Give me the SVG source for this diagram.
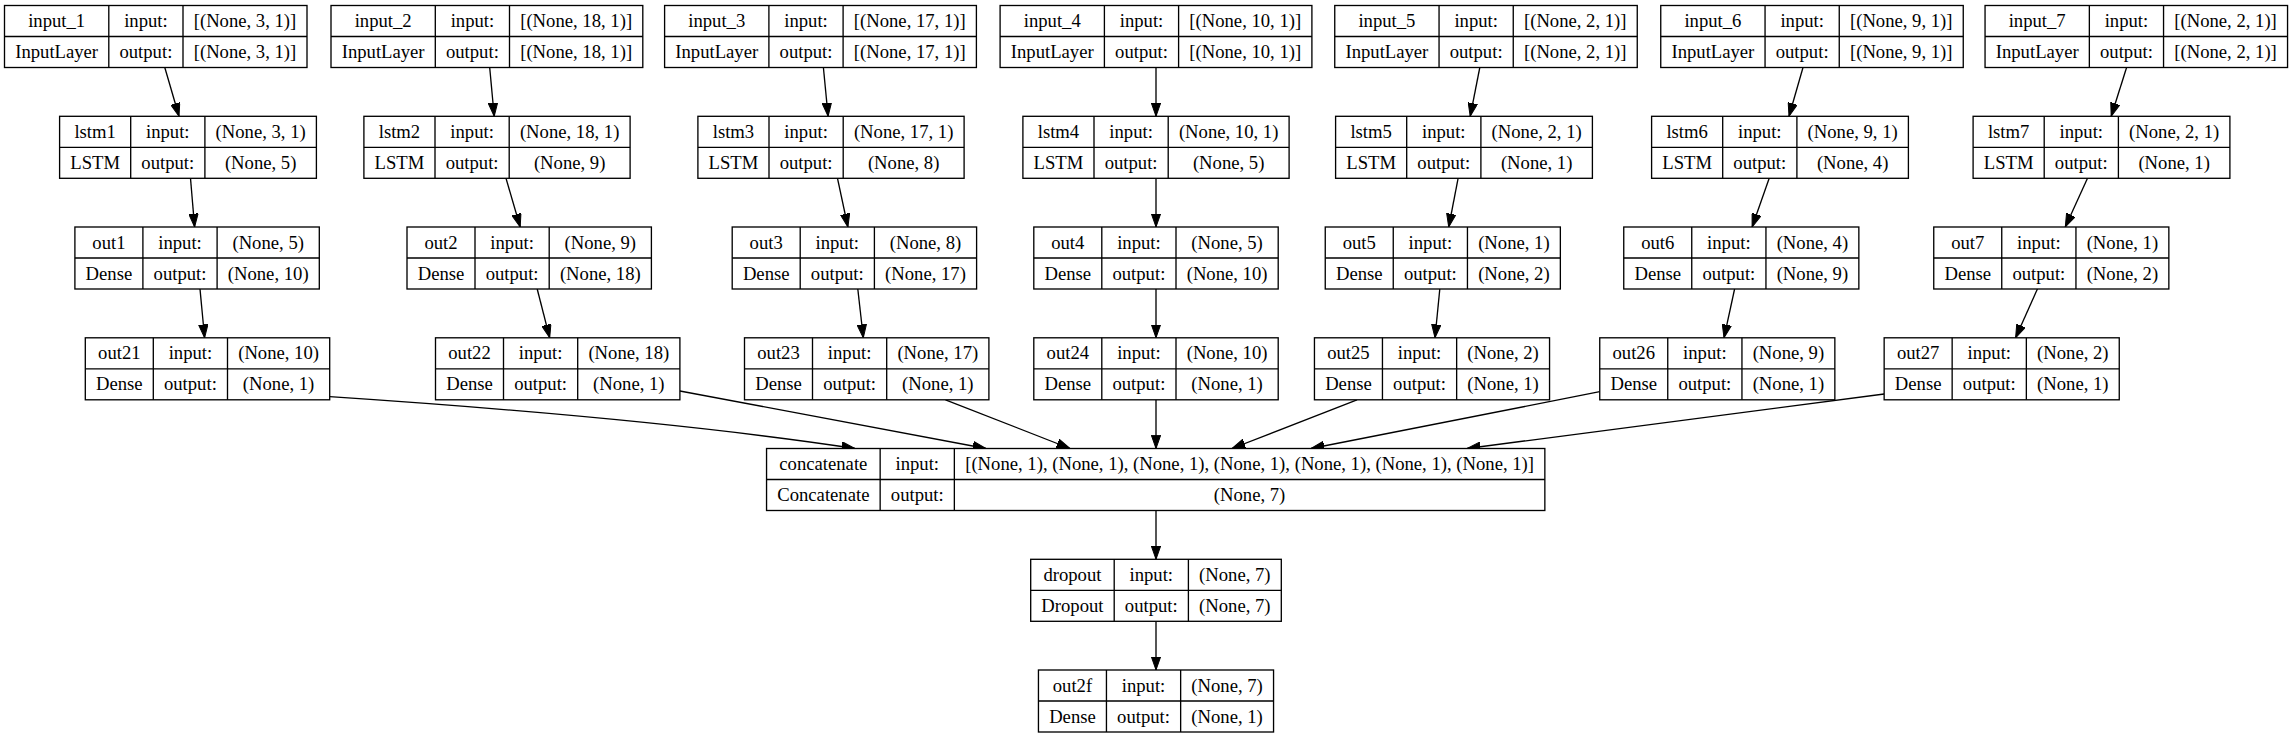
<svg xmlns="http://www.w3.org/2000/svg" width="2293" height="737" viewBox="0 0 2293 737">
<style>
.n rect{fill:#fff;stroke:#000;stroke-width:1.33}
.n path{fill:none;stroke:#000;stroke-width:1.33}
text{font-family:"Liberation Serif","Times New Roman",serif;font-size:18.67px;text-anchor:middle;fill:#000}
.e path{fill:none;stroke:#000;stroke-width:1.33;marker-end:url(#ah)}
</style>
<defs>
<marker id="ah" viewBox="0 -5 14 10" markerWidth="14" markerHeight="10" refX="13.3" refY="0" orient="auto" markerUnits="userSpaceOnUse">
<path d="M0,-4.67L13.3,0L0,4.67z" fill="#000" stroke="#000" stroke-width="1"/>
</marker>
</defs>
<rect x="0" y="0" width="2293" height="737" fill="#fff"/>

<g class="e" id="connectors">
<path d="M164.8,67.5L179,116.3"/>
<path d="M489.7,67.5L494.2,116.3"/>
<path d="M823.4,67.5L828.1,116.3"/>
<path d="M1156,67.5L1156,116.3"/>
<path d="M1479.8,67.5L1470.2,116.3"/>
<path d="M1803,67.5L1789,116.3"/>
<path d="M2126.6,67.5L2111.2,116.3"/>
<path d="M190.5,178.3L194.6,227"/>
<path d="M506,178.3L520.2,227"/>
<path d="M837.5,178.3L847.9,227"/>
<path d="M1156,178.3L1156,227"/>
<path d="M1458.1,178.3L1448.7,227"/>
<path d="M1769.2,178.3L1752.1,227"/>
<path d="M2087.5,178.3L2065.3,227"/>
<path d="M200,289L204.6,337.8"/>
<path d="M537.2,289L549.7,337.8"/>
<path d="M857.8,289L863.3,337.8"/>
<path d="M1156,289L1156,337.8"/>
<path d="M1439.8,289L1435,337.8"/>
<path d="M1734.6,289L1724,337.8"/>
<path d="M2037.4,289L2015.6,337.8"/>
<path d="M329.7,396.7C500,408 700,425 855,448.5"/>
<path d="M679.9,391L986,448.5"/>
<path d="M945.5,399.8L1070,448.5"/>
<path d="M1156,399.8L1156,448.5"/>
<path d="M1357,399.8L1232,448.5"/>
<path d="M1599.75,391.7L1311,448.5"/>
<path d="M1884.15,394L1467,448.5"/>
<path d="M1156,510.5L1156,559.3"/>
<path d="M1156,621.3L1156,670"/>
</g>

<g class="n" id="input_1"><rect x="4.5" y="5.5" width="302.5" height="62"/><path d="M108.8,5.5V67.5M183,5.5V67.5M4.5,36.5H307"/>
<text x="56.65" y="27">input_1</text><text x="145.9" y="27">input:</text><text x="245" y="27">[(None, 3, 1)]</text>
<text x="56.65" y="58">InputLayer</text><text x="145.9" y="58">output:</text><text x="245" y="58">[(None, 3, 1)]</text></g>
<g class="n" id="input_2"><rect x="331" y="5.5" width="311.8" height="62"/><path d="M435.3,5.5V67.5M509.5,5.5V67.5M331,36.5H642.8"/>
<text x="383.15" y="27">input_2</text><text x="472.4" y="27">input:</text><text x="576.15" y="27">[(None, 18, 1)]</text>
<text x="383.15" y="58">InputLayer</text><text x="472.4" y="58">output:</text><text x="576.15" y="58">[(None, 18, 1)]</text></g>
<g class="n" id="input_3"><rect x="664.6" y="5.5" width="311.8" height="62"/><path d="M768.9,5.5V67.5M843.1,5.5V67.5M664.6,36.5H976.4"/>
<text x="716.75" y="27">input_3</text><text x="806" y="27">input:</text><text x="909.75" y="27">[(None, 17, 1)]</text>
<text x="716.75" y="58">InputLayer</text><text x="806" y="58">output:</text><text x="909.75" y="58">[(None, 17, 1)]</text></g>
<g class="n" id="input_4"><rect x="1000.1" y="5.5" width="311.8" height="62"/><path d="M1104.4,5.5V67.5M1178.6,5.5V67.5M1000.1,36.5H1311.9"/>
<text x="1052.25" y="27">input_4</text><text x="1141.5" y="27">input:</text><text x="1245.25" y="27">[(None, 10, 1)]</text>
<text x="1052.25" y="58">InputLayer</text><text x="1141.5" y="58">output:</text><text x="1245.25" y="58">[(None, 10, 1)]</text></g>
<g class="n" id="input_5"><rect x="1334.75" y="5.5" width="302.5" height="62"/><path d="M1439.05,5.5V67.5M1513.25,5.5V67.5M1334.75,36.5H1637.25"/>
<text x="1386.9" y="27">input_5</text><text x="1476.15" y="27">input:</text><text x="1575.25" y="27">[(None, 2, 1)]</text>
<text x="1386.9" y="58">InputLayer</text><text x="1476.15" y="58">output:</text><text x="1575.25" y="58">[(None, 2, 1)]</text></g>
<g class="n" id="input_6"><rect x="1660.75" y="5.5" width="302.5" height="62"/><path d="M1765.05,5.5V67.5M1839.25,5.5V67.5M1660.75,36.5H1963.25"/>
<text x="1712.9" y="27">input_6</text><text x="1802.15" y="27">input:</text><text x="1901.25" y="27">[(None, 9, 1)]</text>
<text x="1712.9" y="58">InputLayer</text><text x="1802.15" y="58">output:</text><text x="1901.25" y="58">[(None, 9, 1)]</text></g>
<g class="n" id="input_7"><rect x="1985.05" y="5.5" width="302.5" height="62"/><path d="M2089.35,5.5V67.5M2163.55,5.5V67.5M1985.05,36.5H2287.55"/>
<text x="2037.2" y="27">input_7</text><text x="2126.45" y="27">input:</text><text x="2225.55" y="27">[(None, 2, 1)]</text>
<text x="2037.2" y="58">InputLayer</text><text x="2126.45" y="58">output:</text><text x="2225.55" y="58">[(None, 2, 1)]</text></g>

<g class="n" id="lstm1"><rect x="59.6" y="116.3" width="256.8" height="62"/><path d="M130.7,116.3V178.3M204.9,116.3V178.3M59.6,147.3H316.4"/>
<text x="95.15" y="137.8">lstm1</text><text x="167.8" y="137.8">input:</text><text x="260.65" y="137.8">(None, 3, 1)</text>
<text x="95.15" y="168.8">LSTM</text><text x="167.8" y="168.8">output:</text><text x="260.65" y="168.8">(None, 5)</text></g>
<g class="n" id="lstm2"><rect x="363.9" y="116.3" width="266.2" height="62"/><path d="M435,116.3V178.3M509.2,116.3V178.3M363.9,147.3H630.1"/>
<text x="399.45" y="137.8">lstm2</text><text x="472.1" y="137.8">input:</text><text x="569.65" y="137.8">(None, 18, 1)</text>
<text x="399.45" y="168.8">LSTM</text><text x="472.1" y="168.8">output:</text><text x="569.65" y="168.8">(None, 9)</text></g>
<g class="n" id="lstm3"><rect x="697.9" y="116.3" width="266.2" height="62"/><path d="M769,116.3V178.3M843.2,116.3V178.3M697.9,147.3H964.1"/>
<text x="733.45" y="137.8">lstm3</text><text x="806.1" y="137.8">input:</text><text x="903.65" y="137.8">(None, 17, 1)</text>
<text x="733.45" y="168.8">LSTM</text><text x="806.1" y="168.8">output:</text><text x="903.65" y="168.8">(None, 8)</text></g>
<g class="n" id="lstm4"><rect x="1022.9" y="116.3" width="266.2" height="62"/><path d="M1094,116.3V178.3M1168.2,116.3V178.3M1022.9,147.3H1289.1"/>
<text x="1058.45" y="137.8">lstm4</text><text x="1131.1" y="137.8">input:</text><text x="1228.65" y="137.8">(None, 10, 1)</text>
<text x="1058.45" y="168.8">LSTM</text><text x="1131.1" y="168.8">output:</text><text x="1228.65" y="168.8">(None, 5)</text></g>
<g class="n" id="lstm5"><rect x="1335.6" y="116.3" width="256.8" height="62"/><path d="M1406.7,116.3V178.3M1480.9,116.3V178.3M1335.6,147.3H1592.4"/>
<text x="1371.15" y="137.8">lstm5</text><text x="1443.8" y="137.8">input:</text><text x="1536.65" y="137.8">(None, 2, 1)</text>
<text x="1371.15" y="168.8">LSTM</text><text x="1443.8" y="168.8">output:</text><text x="1536.65" y="168.8">(None, 1)</text></g>
<g class="n" id="lstm6"><rect x="1651.6" y="116.3" width="256.8" height="62"/><path d="M1722.7,116.3V178.3M1796.9,116.3V178.3M1651.6,147.3H1908.4"/>
<text x="1687.15" y="137.8">lstm6</text><text x="1759.8" y="137.8">input:</text><text x="1852.65" y="137.8">(None, 9, 1)</text>
<text x="1687.15" y="168.8">LSTM</text><text x="1759.8" y="168.8">output:</text><text x="1852.65" y="168.8">(None, 4)</text></g>
<g class="n" id="lstm7"><rect x="1973.1" y="116.3" width="256.8" height="62"/><path d="M2044.2,116.3V178.3M2118.4,116.3V178.3M1973.1,147.3H2229.9"/>
<text x="2008.65" y="137.8">lstm7</text><text x="2081.3" y="137.8">input:</text><text x="2174.15" y="137.8">(None, 2, 1)</text>
<text x="2008.65" y="168.8">LSTM</text><text x="2081.3" y="168.8">output:</text><text x="2174.15" y="168.8">(None, 1)</text></g>

<g class="n" id="out1"><rect x="74.9" y="227" width="244.4" height="62"/><path d="M142.9,227V289M217.1,227V289M74.9,258H319.3"/>
<text x="108.9" y="248.5">out1</text><text x="180" y="248.5">input:</text><text x="268.2" y="248.5">(None, 5)</text>
<text x="108.9" y="279.5">Dense</text><text x="180" y="279.5">output:</text><text x="268.2" y="279.5">(None, 10)</text></g>
<g class="n" id="out2"><rect x="407" y="227" width="244.4" height="62"/><path d="M475,227V289M549.2,227V289M407,258H651.4"/>
<text x="441" y="248.5">out2</text><text x="512.1" y="248.5">input:</text><text x="600.3" y="248.5">(None, 9)</text>
<text x="441" y="279.5">Dense</text><text x="512.1" y="279.5">output:</text><text x="600.3" y="279.5">(None, 18)</text></g>
<g class="n" id="out3"><rect x="732.2" y="227" width="244.4" height="62"/><path d="M800.2,227V289M874.4,227V289M732.2,258H976.6"/>
<text x="766.2" y="248.5">out3</text><text x="837.3" y="248.5">input:</text><text x="925.5" y="248.5">(None, 8)</text>
<text x="766.2" y="279.5">Dense</text><text x="837.3" y="279.5">output:</text><text x="925.5" y="279.5">(None, 17)</text></g>
<g class="n" id="out4"><rect x="1033.8" y="227" width="244.4" height="62"/><path d="M1101.8,227V289M1176,227V289M1033.8,258H1278.2"/>
<text x="1067.8" y="248.5">out4</text><text x="1138.9" y="248.5">input:</text><text x="1227.1" y="248.5">(None, 5)</text>
<text x="1067.8" y="279.5">Dense</text><text x="1138.9" y="279.5">output:</text><text x="1227.1" y="279.5">(None, 10)</text></g>
<g class="n" id="out5"><rect x="1325.25" y="227" width="235.1" height="62"/><path d="M1393.25,227V289M1467.45,227V289M1325.25,258H1560.35"/>
<text x="1359.25" y="248.5">out5</text><text x="1430.35" y="248.5">input:</text><text x="1513.9" y="248.5">(None, 1)</text>
<text x="1359.25" y="279.5">Dense</text><text x="1430.35" y="279.5">output:</text><text x="1513.9" y="279.5">(None, 2)</text></g>
<g class="n" id="out6"><rect x="1623.75" y="227" width="235.1" height="62"/><path d="M1691.75,227V289M1765.95,227V289M1623.75,258H1858.85"/>
<text x="1657.75" y="248.5">out6</text><text x="1728.85" y="248.5">input:</text><text x="1812.4" y="248.5">(None, 4)</text>
<text x="1657.75" y="279.5">Dense</text><text x="1728.85" y="279.5">output:</text><text x="1812.4" y="279.5">(None, 9)</text></g>
<g class="n" id="out7"><rect x="1933.75" y="227" width="235.1" height="62"/><path d="M2001.75,227V289M2075.95,227V289M1933.75,258H2168.85"/>
<text x="1967.75" y="248.5">out7</text><text x="2038.85" y="248.5">input:</text><text x="2122.4" y="248.5">(None, 1)</text>
<text x="1967.75" y="279.5">Dense</text><text x="2038.85" y="279.5">output:</text><text x="2122.4" y="279.5">(None, 2)</text></g>

<g class="n" id="out21"><rect x="85.3" y="337.8" width="244.4" height="62"/><path d="M153.3,337.8V399.8M227.5,337.8V399.8M85.3,368.8H329.7"/>
<text x="119.3" y="359.3">out21</text><text x="190.4" y="359.3">input:</text><text x="278.6" y="359.3">(None, 10)</text>
<text x="119.3" y="390.3">Dense</text><text x="190.4" y="390.3">output:</text><text x="278.6" y="390.3">(None, 1)</text></g>
<g class="n" id="out22"><rect x="435.5" y="337.8" width="244.4" height="62"/><path d="M503.5,337.8V399.8M577.7,337.8V399.8M435.5,368.8H679.9"/>
<text x="469.5" y="359.3">out22</text><text x="540.6" y="359.3">input:</text><text x="628.8" y="359.3">(None, 18)</text>
<text x="469.5" y="390.3">Dense</text><text x="540.6" y="390.3">output:</text><text x="628.8" y="390.3">(None, 1)</text></g>
<g class="n" id="out23"><rect x="744.5" y="337.8" width="244.4" height="62"/><path d="M812.5,337.8V399.8M886.7,337.8V399.8M744.5,368.8H988.9"/>
<text x="778.5" y="359.3">out23</text><text x="849.6" y="359.3">input:</text><text x="937.8" y="359.3">(None, 17)</text>
<text x="778.5" y="390.3">Dense</text><text x="849.6" y="390.3">output:</text><text x="937.8" y="390.3">(None, 1)</text></g>
<g class="n" id="out24"><rect x="1033.8" y="337.8" width="244.4" height="62"/><path d="M1101.8,337.8V399.8M1176,337.8V399.8M1033.8,368.8H1278.2"/>
<text x="1067.8" y="359.3">out24</text><text x="1138.9" y="359.3">input:</text><text x="1227.1" y="359.3">(None, 10)</text>
<text x="1067.8" y="390.3">Dense</text><text x="1138.9" y="390.3">output:</text><text x="1227.1" y="390.3">(None, 1)</text></g>
<g class="n" id="out25"><rect x="1314.45" y="337.8" width="235.1" height="62"/><path d="M1382.45,337.8V399.8M1456.65,337.8V399.8M1314.45,368.8H1549.55"/>
<text x="1348.45" y="359.3">out25</text><text x="1419.55" y="359.3">input:</text><text x="1503.1" y="359.3">(None, 2)</text>
<text x="1348.45" y="390.3">Dense</text><text x="1419.55" y="390.3">output:</text><text x="1503.1" y="390.3">(None, 1)</text></g>
<g class="n" id="out26"><rect x="1599.75" y="337.8" width="235.1" height="62"/><path d="M1667.75,337.8V399.8M1741.95,337.8V399.8M1599.75,368.8H1834.85"/>
<text x="1633.75" y="359.3">out26</text><text x="1704.85" y="359.3">input:</text><text x="1788.4" y="359.3">(None, 9)</text>
<text x="1633.75" y="390.3">Dense</text><text x="1704.85" y="390.3">output:</text><text x="1788.4" y="390.3">(None, 1)</text></g>
<g class="n" id="out27"><rect x="1884.15" y="337.8" width="235.1" height="62"/><path d="M1952.15,337.8V399.8M2026.35,337.8V399.8M1884.15,368.8H2119.25"/>
<text x="1918.15" y="359.3">out27</text><text x="1989.25" y="359.3">input:</text><text x="2072.8" y="359.3">(None, 2)</text>
<text x="1918.15" y="390.3">Dense</text><text x="1989.25" y="390.3">output:</text><text x="2072.8" y="390.3">(None, 1)</text></g>

<g class="n" id="concatenate"><rect x="766.55" y="448.5" width="778.3" height="62"/><path d="M880.15,448.5V510.5M954.35,448.5V510.5M766.55,479.5H1544.85"/>
<text x="823.35" y="470">concatenate</text><text x="917.25" y="470">input:</text><text x="1249.6" y="470">[(None, 1), (None, 1), (None, 1), (None, 1), (None, 1), (None, 1), (None, 1)]</text>
<text x="823.35" y="501">Concatenate</text><text x="917.25" y="501">output:</text><text x="1249.6" y="501">(None, 7)</text></g>

<g class="n" id="dropout"><rect x="1030.7" y="559.3" width="250.6" height="62"/><path d="M1114.2,559.3V621.3M1188.4,559.3V621.3M1030.7,590.3H1281.3"/>
<text x="1072.45" y="580.8">dropout</text><text x="1151.3" y="580.8">input:</text><text x="1234.85" y="580.8">(None, 7)</text>
<text x="1072.45" y="611.8">Dropout</text><text x="1151.3" y="611.8">output:</text><text x="1234.85" y="611.8">(None, 7)</text></g>

<g class="n" id="out2f"><rect x="1038.45" y="670" width="235.1" height="62"/><path d="M1106.45,670V732M1180.65,670V732M1038.45,701H1273.55"/>
<text x="1072.45" y="691.5">out2f</text><text x="1143.55" y="691.5">input:</text><text x="1227.1" y="691.5">(None, 7)</text>
<text x="1072.45" y="722.5">Dense</text><text x="1143.55" y="722.5">output:</text><text x="1227.1" y="722.5">(None, 1)</text></g>
</svg>
